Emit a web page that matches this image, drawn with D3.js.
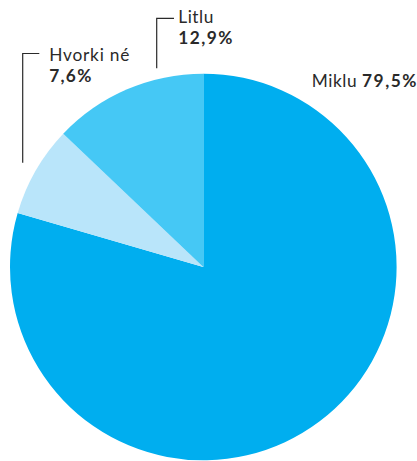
<!DOCTYPE html>
<html><head><meta charset="utf-8">
<script src="https://cdn.jsdelivr.net/npm/d3@7"></script>
<style>html,body{margin:0;padding:0;background:#fff;}svg{display:block;}</style>
</head><body>
<svg id="c" width="417" height="461"></svg>
<script>
const categories = ["Miklu", "Hvorki né", "Litlu"];
const values = [79.5, 7.6, 12.9];
const valueLabels = ["79,5%", "7,6%", "12,9%"];
const colors = ["#00AEEF", "#B9E5FA", "#45C8F5"];

const svg = d3.select("#c");
const cx = 203.3, cy = 267, r = 193.3;
const pie = d3.pie().sort(null).value(d => d.v);
const data = categories.map((c, i) => ({c, v: values[i], lab: valueLabels[i], col: colors[i]}));
const arcs = pie(data);
const arc = d3.arc().innerRadius(0).outerRadius(r);
const g = svg.append("g").attr("transform", `translate(${cx},${cy})`);
g.selectAll("path").data(arcs).join("path")
  .attr("d", arc).attr("fill", d => d.data.col);

const font = "Lato, 'Open Sans', sans-serif";
const txt = "#2a2a2a";
const fs = 17.3;
function label(x, y, s, w, bold) {
  svg.append("text").attr("x", x).attr("y", y)
    .attr("font-family", font).attr("font-size", fs)
    .attr("font-weight", bold ? "bold" : "normal").attr("fill", txt)
    .attr("textLength", w).attr("lengthAdjust", "spacing").text(s);
}
// Miklu label: inline
label(311.7, 87.3, data[0].c, 45, false);
label(362, 87.3, data[0].lab, 54.5, true);

// Leader lines
const line = d3.line();
svg.append("path").attr("d", line([[22.7, 162.7], [22.7, 53.5], [39.3, 53.5]]))
  .attr("fill", "none").attr("stroke", "#2a2a2a").attr("stroke-width", 1.2);
svg.append("path").attr("d", line([[156.7, 68.3], [156.7, 18.3], [174, 18.3]]))
  .attr("fill", "none").attr("stroke", "#2a2a2a").attr("stroke-width", 1.2);

label(49.3, 60.7, data[1].c, 80, false);
label(49.3, 81.7, data[1].lab, 42, true);
label(178.3, 22.7, data[2].c, 35, false);
label(178.3, 44.3, data[2].lab, 54, true);
</script>
</body></html>
